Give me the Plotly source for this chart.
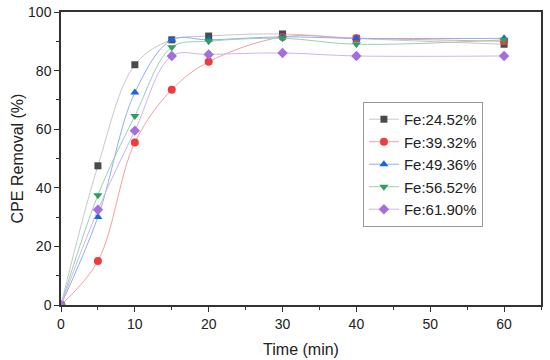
import plotly.graph_objects as go

time = [0, 5, 10, 15, 20, 30, 40, 60]
fe_2452 = [0, 47.5, 82, 90.5, 91.8, 92.5, 91, 89]
fe_3932 = [0, 15, 55.5, 73.5, 83, 91.5, 91, 90]
fe_4936 = [0, 30, 72.5, 90.5, 90.5, 91.5, 91, 91]
fe_5652 = [0, 37.5, 64.5, 88, 90, 91, 89, 90.5]
fe_6190 = [0, 32.5, 59.5, 85, 85.5, 86, 85, 85]

series = [
    ("Fe:24.52%", fe_2452, "#4a4a4a", "#c8c8c8", "square", 7),
    ("Fe:39.32%", fe_3932, "#ee3b3b", "#f4a0a0", "circle", 8),
    ("Fe:49.36%", fe_4936, "#1c64dc", "#8fb0e8", "triangle-up", 8),
    ("Fe:56.52%", fe_5652, "#2e9e5e", "#9ccfb0", "triangle-down", 8),
    ("Fe:61.90%", fe_6190, "#a26ee0", "#cfb4f0", "diamond", 8),
]

fig = go.Figure()
for name, ys, mc, lc, sym, sz in series:
    fig.add_trace(go.Scatter(
        x=time, y=ys, name=name, mode="lines+markers",
        line=dict(color=lc, width=1, shape="spline", smoothing=1.0),
        marker=dict(color=mc, symbol=sym, size=sz, line=dict(width=0)),
    ))

FONT = "Liberation Sans, Arial"
axis_common = dict(
    showline=True, linecolor="#333", linewidth=1.5, mirror=True,
    ticks="outside", ticklen=5, tickwidth=1, tickcolor="#333",
    showgrid=False, zeroline=False, automargin=False,
    tickfont=dict(family=FONT, size=14, color="#222"),
    minor=dict(ticks="outside", ticklen=3, tickcolor="#333", tickwidth=1),
)

fig.update_xaxes(range=[0, 65], tick0=0, dtick=10, minor_dtick=5,
                 title=dict(text="Time (min)", font=dict(family=FONT, size=16, color="#222"), standoff=13),
                 **axis_common)
fig.update_yaxes(range=[0, 100], tick0=0, dtick=20, minor_dtick=10,
                 title=dict(text="CPE Removal (%)", font=dict(family=FONT, size=16, color="#222"), standoff=0),
                 **axis_common)

fig.update_layout(
    width=550, height=360,
    margin=dict(l=61, r=9, t=12, b=55),
    paper_bgcolor="white", plot_bgcolor="white",
    legend=dict(x=0.629, y=0.693, xanchor="left", yanchor="top",
                bordercolor="#999", borderwidth=1, bgcolor="white",
                font=dict(family=FONT, size=15, color="#222"),
                tracegroupgap=0),
    showlegend=True,
)

fig.write_html("out.html", config={"displayModeBar": False},
               post_script="document.body.style.margin='0';")
